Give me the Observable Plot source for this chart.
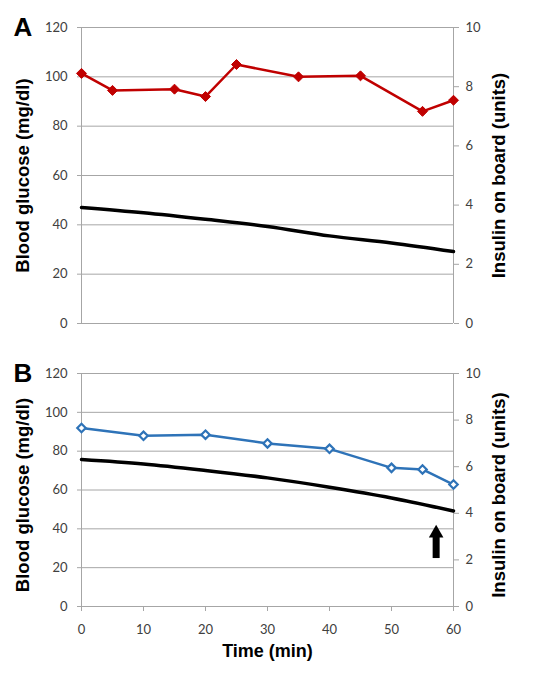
<!DOCTYPE html>
<html>
<head>
<meta charset="utf-8">
<script src="https://cdn.jsdelivr.net/npm/d3@7"></script>
<script src="https://cdn.jsdelivr.net/npm/@observablehq/plot@0.6"></script>
<style>
  html, body { margin: 0; padding: 0; background: #fff; }
  #chart { width: 543px; height: 674px; }
  #chart svg { display: block; }
</style>
</head>
<body>
<div id="chart"></div>
<script>
// ---- data ----
const timeA = [0, 5, 15, 20, 25, 35, 45, 55, 60];
const glucoseA = [101.4, 94.5, 95, 92, 105, 100, 100.4, 86, 90.5];
const insulinTime = [0, 10, 20, 30, 40, 50, 60];
const insulinA = [3.92, 3.74, 3.52, 3.28, 2.96, 2.72, 2.43];

const timeB = [0, 10, 20, 30, 40, 50, 55, 60];
const glucoseB = [91.9, 87.9, 88.5, 84, 81.2, 71.4, 70.6, 62.8];
const insulinB = [6.31, 6.12, 5.84, 5.52, 5.12, 4.66, 4.1];

const glucoseTicks = [0, 20, 40, 60, 80, 100, 120];
const insulinTicks = [0, 2, 4, 6, 8, 10];
const timeTicks = [0, 10, 20, 30, 40, 50, 60];

const arrowTime = [57.2];
const arrowFrom = [24.7];
const arrowTo = [42];

const glucoseLabel = "Blood glucose (mg/dl)";
const insulinLabel = "Insulin on board (units)";
const timeLabel = "Time (min)";

// insulin (0–10) shares the glucose (0–120) scale
const ratio = 120 / 10;

const grid = "#a6a6a6";
const tickText = "#404040";
const boldFont = "Liberation Sans, Arial, sans-serif";

function panel({letter, time, glucose, insulin, height, marginTop, marginBottom,
                color, filled, showX, labelDy, arrow}) {
  const gData = time.map((t, i) => ({t, g: glucose[i]}));
  const iData = insulinTime.map((t, i) => ({t, v: insulin[i] * ratio}));
  const marks = [
    Plot.ruleY(glucoseTicks, {stroke: grid, strokeWidth: 1}),
    Plot.ruleX([0, 60], {stroke: grid, strokeWidth: 1}),
    Plot.axisY({anchor: "left", ticks: glucoseTicks, tickSize: 4, tickPadding: 10,
      stroke: grid, fill: tickText, label: null}),
    Plot.axisY({anchor: "right", ticks: insulinTicks.map(d => d * ratio),
      tickFormat: d => d / ratio, tickSize: 5, tickPadding: 7,
      stroke: grid, fill: tickText, label: null}),
    Plot.line(iData, {x: "t", y: "v", stroke: "black", strokeWidth: 3.5, curve: "monotone-x"}),
    Plot.line(gData, {x: "t", y: "g", stroke: color, strokeWidth: 2.5}),
    Plot.dot(gData, {x: "t", y: "g", symbol: "diamond2", r: filled ? 4.5 : 3.8,
      fill: filled ? color : "white", stroke: color, strokeWidth: filled ? 1 : 2.2}),
    Plot.text([glucoseLabel], {frameAnchor: "left", textAnchor: "middle", lineAnchor: "middle",
      rotate: -90, dx: -58, dy: labelDy,
      fontSize: 18.5, fontWeight: "bold", fontFamily: boldFont, fill: "black"}),
    Plot.text([insulinLabel], {frameAnchor: "right", textAnchor: "middle", lineAnchor: "middle",
      rotate: -90, dx: 46, dy: labelDy,
      fontSize: 18.5, fontWeight: "bold", fontFamily: boldFont, fill: "black"}),
    Plot.text([letter], {frameAnchor: "top-left", textAnchor: "start", lineAnchor: "top",
      dx: -68, dy: -10, fontSize: 26, fontWeight: "bold", fontFamily: boldFont, fill: "black"})
  ];
  if (showX) {
    marks.push(Plot.axisX({anchor: "bottom", ticks: timeTicks, tickSize: 5, tickPadding: 13,
      stroke: grid, fill: tickText, label: null}));
    marks.push(Plot.text([timeLabel], {frameAnchor: "bottom", lineAnchor: "middle", dy: 45,
      fontSize: 18, fontWeight: "bold", fontFamily: boldFont, fill: "black"}));
  }
  if (arrow) {
    const aData = arrowTime.map((t, i) => ({t, top: arrowTo[i], bottom: arrowFrom[i]}));
    // shaft (y1 = upper end on screen, inset keeps it below the head)
    marks.push(Plot.ruleX(aData, {x: "t", y1: "top", y2: "bottom", stroke: "black",
      strokeWidth: 7, insetTop: 10}));
    // head
    marks.push(Plot.dot(aData, {x: "t", y: "top", symbol: "triangle", r: 5.4,
      fill: "black", stroke: "none", dy: 8.3}));
  }
  return Plot.plot({
    width: 543, height, marginLeft: 81, marginRight: 90, marginTop, marginBottom,
    style: {fontFamily: "Lato, sans-serif", fontSize: "13px", background: "white"},
    x: {domain: [0, 60], axis: null},
    y: {domain: [0, 120], axis: null},
    marks
  });
}

const chart = document.getElementById("chart");
chart.append(panel({letter: "A", time: timeA, glucose: glucoseA, insulin: insulinA,
  height: 340, marginTop: 27, marginBottom: 17, color: "#c00000", filled: true,
  showX: false, labelDy: 0, arrow: false}));
chart.append(panel({letter: "B", time: timeB, glucose: glucoseB, insulin: insulinB,
  height: 334, marginTop: 33, marginBottom: 68, color: "#2e73b8", filled: false,
  showX: true, labelDy: 5, arrow: true}));
</script>
</body>
</html>
